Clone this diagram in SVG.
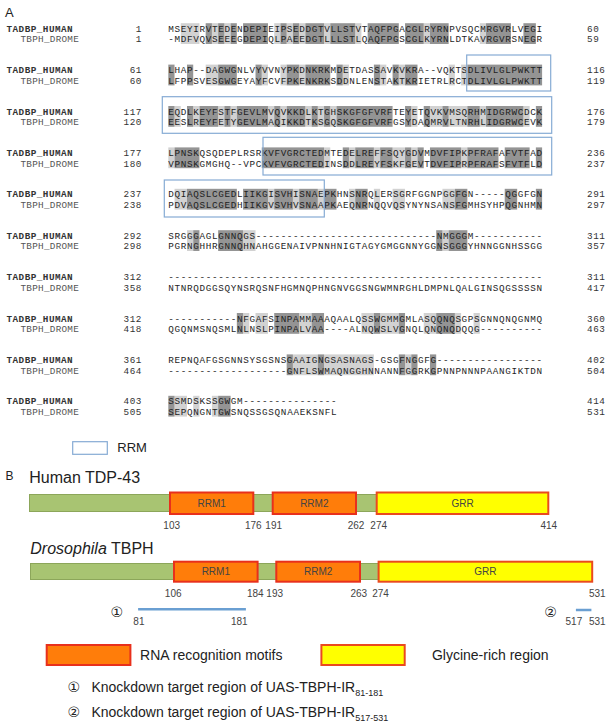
<svg xmlns="http://www.w3.org/2000/svg" width="610" height="725" viewBox="0 0 610 725">
<style>
.bg{fill:#fff}
.nmH{font-family:"Liberation Mono",monospace;font-size:9.3px;fill:#333;font-weight:bold;letter-spacing:0.48px}
.nmD{font-family:"Liberation Mono",monospace;font-size:9.3px;fill:#555;letter-spacing:0.28px}
.num{font-family:"Liberation Mono",monospace;font-size:9.3px;fill:#333;letter-spacing:0.6px}
.seq{font-family:"Liberation Mono",monospace;font-size:9.3px;fill:#1e1e1e}
.d{fill:#949494}
.l{fill:#d2d2d2}
.rrm{fill:none;stroke:#86abd4;stroke-width:1.2}
.lab{font-family:"Liberation Sans",Arial,sans-serif;fill:#222}
.pos{font-family:"Liberation Sans",Arial,sans-serif;font-size:10px;fill:#444;text-anchor:middle}
.dom{font-family:"Liberation Sans",Arial,sans-serif;font-size:10px;fill:#444;text-anchor:middle}
.bar{fill:#a8c472;stroke:#8ca65a;stroke-width:1}
.rm{fill:#ff7d0a;stroke:#e8301c;stroke-width:2}
.gr{fill:#ffff00;stroke:#ea4a1e;stroke-width:2}
.reg{stroke:#6a9fd2;stroke-width:2.5}
.leg{font-family:"Liberation Sans","DejaVu Sans",sans-serif;font-size:14px;fill:#222}
</style>
<rect class="bg" x="0" y="0" width="610" height="725"/>

<g id="panelA">
<text class="lab" x="5" y="16.5" font-size="13">A</text>

<g id="shading">
<g transform="translate(168.3,23.2) scale(6.23,1)">
<rect class="l" x="2" width="3" height="20.8"/><rect class="l" x="7" width="1" height="20.8"/><rect class="l" x="9" width="1" height="20.8"/><rect class="l" x="17" width="1" height="20.8"/><rect class="l" x="19" width="1" height="20.8"/><rect class="l" x="21" width="1" height="20.8"/><rect class="l" x="25" width="1" height="20.8"/><rect class="l" x="30" width="1" height="20.8"/><rect class="l" x="41" width="1" height="20.8"/><rect class="l" x="50" width="1" height="20.8"/>
<rect class="d" x="6" width="1" height="20.8"/><rect class="d" x="8" width="1" height="20.8"/><rect class="d" x="10" width="1" height="20.8"/><rect class="d" x="12" width="4" height="20.8"/><rect class="d" x="18" width="1" height="20.8"/><rect class="d" x="20" width="1" height="20.8"/><rect class="d" x="22" width="3" height="20.8"/><rect class="d" x="26" width="4" height="20.8"/><rect class="d" x="32" width="5" height="20.8"/><rect class="d" x="38" width="3" height="20.8"/><rect class="d" x="42" width="3" height="20.8"/><rect class="d" x="51" width="4" height="20.8"/><rect class="d" x="57" width="2" height="20.8"/>
</g>
<g transform="translate(168.3,64.6) scale(6.23,1)">
<rect class="l" x="6" width="2" height="20.8"/><rect class="l" x="15" width="1" height="20.8"/><rect class="l" x="18" width="1" height="20.8"/><rect class="l" x="21" width="1" height="20.8"/><rect class="l" x="28" width="1" height="20.8"/><rect class="l" x="34" width="1" height="20.8"/><rect class="l" x="37" width="1" height="20.8"/><rect class="l" x="45" width="1" height="20.8"/><rect class="l" x="47" width="1" height="20.8"/>
<rect class="d" x="0" width="1" height="20.8"/><rect class="d" x="3" width="1" height="20.8"/><rect class="d" x="8" width="3" height="20.8"/><rect class="d" x="14" width="1" height="20.8"/><rect class="d" x="19" width="2" height="20.8"/><rect class="d" x="22" width="4" height="20.8"/><rect class="d" x="27" width="1" height="20.8"/><rect class="d" x="33" width="1" height="20.8"/><rect class="d" x="36" width="1" height="20.8"/><rect class="d" x="38" width="2" height="20.8"/><rect class="d" x="48" width="12" height="20.8"/>
</g>
<g transform="translate(168.3,106) scale(6.23,1)">
<rect class="l" x="1" width="1" height="20.8"/><rect class="l" x="4" width="1" height="20.8"/><rect class="l" x="8" width="1" height="20.8"/><rect class="l" x="10" width="1" height="20.8"/><rect class="l" x="16" width="1" height="20.8"/><rect class="l" x="18" width="1" height="20.8"/><rect class="l" x="22" width="1" height="20.8"/><rect class="l" x="24" width="1" height="20.8"/><rect class="l" x="26" width="1" height="20.8"/><rect class="l" x="39" width="1" height="20.8"/><rect class="l" x="42" width="2" height="20.8"/><rect class="l" x="45" width="3" height="20.8"/><rect class="l" x="50" width="1" height="20.8"/><rect class="l" x="57" width="1" height="20.8"/>
<rect class="d" x="0" width="1" height="20.8"/><rect class="d" x="3" width="1" height="20.8"/><rect class="d" x="5" width="3" height="20.8"/><rect class="d" x="9" width="1" height="20.8"/><rect class="d" x="11" width="5" height="20.8"/><rect class="d" x="17" width="1" height="20.8"/><rect class="d" x="19" width="3" height="20.8"/><rect class="d" x="23" width="1" height="20.8"/><rect class="d" x="25" width="1" height="20.8"/><rect class="d" x="27" width="9" height="20.8"/><rect class="d" x="38" width="1" height="20.8"/><rect class="d" x="41" width="1" height="20.8"/><rect class="d" x="44" width="1" height="20.8"/><rect class="d" x="48" width="2" height="20.8"/><rect class="d" x="51" width="6" height="20.8"/><rect class="d" x="59" width="1" height="20.8"/>
</g>
<g transform="translate(168.3,147.4) scale(6.23,1)">
<rect class="l" x="0" width="1" height="20.8"/><rect class="l" x="25" width="1" height="20.8"/><rect class="l" x="29" width="1" height="20.8"/><rect class="l" x="33" width="1" height="20.8"/><rect class="l" x="36" width="2" height="20.8"/><rect class="l" x="39" width="1" height="20.8"/><rect class="l" x="47" width="1" height="20.8"/>
<rect class="d" x="1" width="4" height="20.8"/><rect class="d" x="15" width="10" height="20.8"/><rect class="d" x="28" width="1" height="20.8"/><rect class="d" x="30" width="3" height="20.8"/><rect class="d" x="34" width="2" height="20.8"/><rect class="d" x="38" width="1" height="20.8"/><rect class="d" x="40" width="1" height="20.8"/><rect class="d" x="42" width="5" height="20.8"/><rect class="d" x="48" width="5" height="20.8"/><rect class="d" x="54" width="4" height="20.8"/><rect class="d" x="59" width="1" height="20.8"/>
</g>
<g transform="translate(168.3,188.8) scale(6.23,1)">
<rect class="l" x="1" width="2" height="20.8"/><rect class="l" x="16" width="1" height="20.8"/><rect class="l" x="20" width="1" height="20.8"/><rect class="l" x="24" width="1" height="20.8"/><rect class="l" x="29" width="1" height="20.8"/><rect class="l" x="33" width="1" height="20.8"/><rect class="l" x="36" width="2" height="20.8"/><rect class="l" x="44" width="2" height="20.8"/>
<rect class="d" x="3" width="8" height="20.8"/><rect class="d" x="12" width="4" height="20.8"/><rect class="d" x="17" width="3" height="20.8"/><rect class="d" x="21" width="3" height="20.8"/><rect class="d" x="25" width="2" height="20.8"/><rect class="d" x="30" width="2" height="20.8"/><rect class="d" x="46" width="2" height="20.8"/><rect class="d" x="54" width="2" height="20.8"/><rect class="d" x="59" width="1" height="20.8"/>
</g>
<g transform="translate(168.3,230.2) scale(6.23,1)">
<rect class="l" x="3" width="1" height="20.8"/><rect class="l" x="12" width="2" height="20.8"/><rect class="l" x="44" width="1" height="20.8"/>
<rect class="d" x="4" width="1" height="20.8"/><rect class="d" x="8" width="4" height="20.8"/><rect class="d" x="43" width="1" height="20.8"/><rect class="d" x="45" width="3" height="20.8"/>
</g>
<g transform="translate(168.3,313) scale(6.23,1)">
<rect class="l" x="12" width="1" height="20.8"/><rect class="l" x="14" width="2" height="20.8"/><rect class="l" x="21" width="2" height="20.8"/><rect class="l" x="31" width="2" height="20.8"/><rect class="l" x="34" width="3" height="20.8"/><rect class="l" x="41" width="2" height="20.8"/><rect class="l" x="46" width="1" height="20.8"/><rect class="l" x="49" width="1" height="20.8"/>
<rect class="d" x="11" width="1" height="20.8"/><rect class="d" x="17" width="4" height="20.8"/><rect class="d" x="23" width="2" height="20.8"/><rect class="d" x="33" width="1" height="20.8"/><rect class="d" x="37" width="1" height="20.8"/><rect class="d" x="43" width="3" height="20.8"/>
</g>
<g transform="translate(168.3,354.4) scale(6.23,1)">
<rect class="l" x="20" width="4" height="20.8"/><rect class="l" x="25" width="8" height="20.8"/><rect class="l" x="38" width="1" height="20.8"/>
<rect class="d" x="19" width="1" height="20.8"/><rect class="d" x="24" width="1" height="20.8"/><rect class="d" x="37" width="1" height="20.8"/><rect class="d" x="39" width="1" height="20.8"/><rect class="d" x="42" width="1" height="20.8"/>
</g>
<g transform="translate(168.3,395.8) scale(6.23,1)">
<rect class="l" x="1" width="2" height="20.8"/><rect class="l" x="4" width="1" height="20.8"/><rect class="l" x="7" width="1" height="20.8"/>
<rect class="d" x="0" width="1" height="20.8"/><rect class="d" x="8" width="2" height="20.8"/>
</g>
</g>

<g id="names">
<text class="nmH" x="6.5" y="31.7">TADBP_HUMAN</text><text class="nmD" x="20.5" y="42.3">TBPH_DROME</text>
<text class="nmH" x="6.5" y="73.1">TADBP_HUMAN</text><text class="nmD" x="20.5" y="83.7">TBPH_DROME</text>
<text class="nmH" x="6.5" y="114.5">TADBP_HUMAN</text><text class="nmD" x="20.5" y="125.1">TBPH_DROME</text>
<text class="nmH" x="6.5" y="155.9">TADBP_HUMAN</text><text class="nmD" x="20.5" y="166.5">TBPH_DROME</text>
<text class="nmH" x="6.5" y="197.3">TADBP_HUMAN</text><text class="nmD" x="20.5" y="207.9">TBPH_DROME</text>
<text class="nmH" x="6.5" y="238.7">TADBP_HUMAN</text><text class="nmD" x="20.5" y="249.3">TBPH_DROME</text>
<text class="nmH" x="6.5" y="280.1">TADBP_HUMAN</text><text class="nmD" x="20.5" y="290.7">TBPH_DROME</text>
<text class="nmH" x="6.5" y="321.5">TADBP_HUMAN</text><text class="nmD" x="20.5" y="332.1">TBPH_DROME</text>
<text class="nmH" x="6.5" y="362.9">TADBP_HUMAN</text><text class="nmD" x="20.5" y="373.5">TBPH_DROME</text>
<text class="nmH" x="6.5" y="404.3">TADBP_HUMAN</text><text class="nmD" x="20.5" y="414.9">TBPH_DROME</text>
</g>

<g id="left-numbers" text-anchor="end">
<text class="num" x="142" y="31.7">1</text><text class="num" x="142" y="42.3">1</text>
<text class="num" x="142" y="73.1">61</text><text class="num" x="142" y="83.7">60</text>
<text class="num" x="142" y="114.5">117</text><text class="num" x="142" y="125.1">120</text>
<text class="num" x="142" y="155.9">177</text><text class="num" x="142" y="166.5">180</text>
<text class="num" x="142" y="197.3">237</text><text class="num" x="142" y="207.9">238</text>
<text class="num" x="142" y="238.7">292</text><text class="num" x="142" y="249.3">298</text>
<text class="num" x="142" y="280.1">312</text><text class="num" x="142" y="290.7">358</text>
<text class="num" x="142" y="321.5">312</text><text class="num" x="142" y="332.1">418</text>
<text class="num" x="142" y="362.9">361</text><text class="num" x="142" y="373.5">464</text>
<text class="num" x="142" y="404.3">403</text><text class="num" x="142" y="414.9">505</text>
</g>

<g id="sequences">
<text class="seq" x="168.3" y="31.7" textLength="373.8" lengthAdjust="spacing">MSEYIRVTEDENDEPIEIPSEDDGTVLLSTVTAQFPGACGLRYRNPVSQCMRGVRLVEGI</text>
<text class="seq" x="168.3" y="42.3" textLength="373.8" lengthAdjust="spacing">-MDFVQVSEEEGDEPIQLPAEEDGTLLLSTLQAQFPGSCGLKYRNLDTKAVRGVRSNEGR</text>
<text class="seq" x="168.3" y="73.1" textLength="373.8" lengthAdjust="spacing">LHAP--DAGWGNLVYVVNYPKDNKRKMDETDASSAVKVKRA--VQKTSDLIVLGLPWKTT</text>
<text class="seq" x="168.3" y="83.7" textLength="373.8" lengthAdjust="spacing">LFPPSVESGWGEYAYFCVFPKENKRKSDDNLENSTAKTKRIETRLRCTDLIVLGLPWKTT</text>
<text class="seq" x="168.3" y="114.5" textLength="373.8" lengthAdjust="spacing">EQDLKEYFSTFGEVLMVQVKKDLKTGHSKGFGFVRFTEYETQVKVMSQRHMIDGRWCDCK</text>
<text class="seq" x="168.3" y="125.1" textLength="373.8" lengthAdjust="spacing">EESLREYFETYGEVLMAQIKKDTKSGQSKGFGFVRFGSYDAQMRVLTNRHLIDGRWCEVK</text>
<text class="seq" x="168.3" y="155.9" textLength="373.8" lengthAdjust="spacing">LPNSKQSQDEPLRSRKVFVGRCTEDMTEDELREFFSQYGDVMDVFIPKPFRAFAFVTFAD</text>
<text class="seq" x="168.3" y="166.5" textLength="373.8" lengthAdjust="spacing">VPNSKGMGHQ--VPCKVFVGRCTEDINSDDLREYFSKFGEVTDVFIPRPFRAFSFVTFLD</text>
<text class="seq" x="168.3" y="197.3" textLength="373.8" lengthAdjust="spacing">DQIAQSLCGEDLIIKGISVHISNAEPKHNSNRQLERSGRFGGNPGGFGN-----QGGFGN</text>
<text class="seq" x="168.3" y="207.9" textLength="373.8" lengthAdjust="spacing">PDVAQSLCGEDHIIKGVSVHVSNAAPKAEQNRNQQVQSYNYNSANSFGMHSYHPQGNHMN</text>
<text class="seq" x="168.3" y="238.7" textLength="373.8" lengthAdjust="spacing">SRGGGAGLGNNQGS-----------------------------NMGGGM-----------</text>
<text class="seq" x="168.3" y="249.3" textLength="373.8" lengthAdjust="spacing">PGRNGHHRGNNQHNAHGGENAIVPNNHNIGTAGYGMGGNNYGGNSGGGYHNNGGNHSSGG</text>
<text class="seq" x="168.3" y="280.1" textLength="373.8" lengthAdjust="spacing">------------------------------------------------------------</text>
<text class="seq" x="168.3" y="290.7" textLength="373.8" lengthAdjust="spacing">NTNRQDGGSQYNSRQSNFHGMNQPHNGNVGGSNGWMNRGHLDMPNLQALGINSQGSSSSN</text>
<text class="seq" x="168.3" y="321.5" textLength="373.8" lengthAdjust="spacing">-----------NFGAFSINPAMMAAAQAALQSSWGMMGMLASQQNQSGPSGNNQNQGNMQ</text>
<text class="seq" x="168.3" y="332.1" textLength="373.8" lengthAdjust="spacing">QGQNMSNQSMLNLNSLPINPALVAA----ALNQWSLVGNQLQNQNQDQQG----------</text>
<text class="seq" x="168.3" y="362.9" textLength="373.8" lengthAdjust="spacing">REPNQAFGSGNNSYSGSNSGAAIGNGSASNAGS-GSGFNGGFG-----------------</text>
<text class="seq" x="168.3" y="373.5" textLength="373.8" lengthAdjust="spacing">-------------------GNFLSWMAQNGGHNNANNFGGRKGPNNPNNNPAANGIKTDN</text>
<text class="seq" x="168.3" y="404.3" textLength="168.2" lengthAdjust="spacing">SSMDSKSSGWGM---------------</text>
<text class="seq" x="168.3" y="414.9" textLength="168.2" lengthAdjust="spacing">SEPQNGNTGWSNQSSGSQNAAEKSNFL</text>
</g>

<g id="right-numbers">
<text class="num" x="587" y="31.7">60</text><text class="num" x="587" y="42.3">59</text>
<text class="num" x="587" y="73.1">116</text><text class="num" x="587" y="83.7">119</text>
<text class="num" x="587" y="114.5">176</text><text class="num" x="587" y="125.1">179</text>
<text class="num" x="587" y="155.9">236</text><text class="num" x="587" y="166.5">237</text>
<text class="num" x="587" y="197.3">291</text><text class="num" x="587" y="207.9">297</text>
<text class="num" x="587" y="238.7">311</text><text class="num" x="587" y="249.3">357</text>
<text class="num" x="587" y="280.1">311</text><text class="num" x="587" y="290.7">417</text>
<text class="num" x="587" y="321.5">360</text><text class="num" x="587" y="332.1">463</text>
<text class="num" x="587" y="362.9">402</text><text class="num" x="587" y="373.5">504</text>
<text class="num" x="587" y="404.3">414</text><text class="num" x="587" y="414.9">531</text>
</g>

<g id="rrm-boxes">
<rect class="rrm" x="466.7" y="55" width="84" height="36"/>
<rect class="rrm" x="162.3" y="96.7" width="389.4" height="36.6"/>
<rect class="rrm" x="263" y="137.3" width="288.7" height="37.7"/>
<rect class="rrm" x="164.3" y="180" width="160" height="37"/>
</g>

<g id="rrm-legend">
<rect class="rrm" x="72.7" y="441.7" width="34.6" height="12.6"/>
<text class="lab" x="117.3" y="452" font-size="13">RRM</text>
</g>
</g>

<g id="panelB">
<text class="lab" x="5.5" y="480" font-size="12">B</text>

<g id="human-tdp43">
<text class="lab" x="29.3" y="483" font-size="16">Human TDP-43</text>
<rect class="bar" x="29.5" y="494.5" width="519" height="17"/>
<g id="h-rrm1"><rect class="rm" x="170" y="492.5" width="83.3" height="21.5"/><text class="dom" x="211.7" y="507">RRM1</text></g>
<g id="h-rrm2"><rect class="rm" x="272.7" y="492.5" width="83.3" height="21.5"/><text class="dom" x="314.3" y="507">RRM2</text></g>
<g id="h-grr"><rect class="gr" x="376.7" y="492.5" width="171.6" height="21.5"/><text class="dom" x="462.5" y="507">GRR</text></g>
<text class="pos" x="171.7" y="528.6">103</text>
<text class="pos" x="253.3" y="528.6">176</text>
<text class="pos" x="273.7" y="528.6">191</text>
<text class="pos" x="356" y="528.6">262</text>
<text class="pos" x="378.7" y="528.6">274</text>
<text class="pos" x="548.8" y="528.6">414</text>
</g>

<g id="drosophila-tbph">
<text class="lab" x="30.3" y="554" font-size="16"><tspan font-style="italic">Drosophila</tspan> TBPH</text>
<rect class="bar" x="30.5" y="563.5" width="562" height="16"/>
<g id="d-rrm1"><rect class="rm" x="174" y="561.7" width="83.6" height="20"/><text class="dom" x="215.8" y="575.3">RRM1</text></g>
<g id="d-rrm2"><rect class="rm" x="276.3" y="561.7" width="83.7" height="20"/><text class="dom" x="318.2" y="575.3">RRM2</text></g>
<g id="d-grr"><rect class="gr" x="378.6" y="561.7" width="213.6" height="20"/><text class="dom" x="485.4" y="575.3">GRR</text></g>
<text class="pos" x="173.2" y="597">106</text>
<text class="pos" x="255.3" y="597">184</text>
<text class="pos" x="274.7" y="597">193</text>
<text class="pos" x="358.8" y="597">263</text>
<text class="pos" x="380.5" y="597">274</text>
<text class="pos" x="597.3" y="597">531</text>
</g>

<g id="region-lines">
<text class="leg" x="116.7" y="616.5" text-anchor="middle">①</text>
<line class="reg" x1="138.1" y1="609.3" x2="245.9" y2="609.3"/>
<text class="pos" x="138.9" y="625">81</text>
<text class="pos" x="239.3" y="625">181</text>
<text class="leg" x="550.6" y="616.5" text-anchor="middle">②</text>
<line class="reg" x1="575.9" y1="610" x2="591.4" y2="610"/>
<text class="pos" x="573.9" y="625">517</text>
<text class="pos" x="597.3" y="625">531</text>
</g>

<g id="legend">
<g id="leg-rrm"><rect class="rm" x="46.7" y="645" width="83.7" height="20"/><text class="leg" x="140.1" y="660">RNA recognition motifs</text></g>
<g id="leg-grr"><rect class="gr" x="321.4" y="645" width="83.3" height="20"/><text class="leg" x="431.9" y="660">Glycine-rich region</text></g>
<g id="leg-1"><text class="leg" x="73.9" y="691.5" text-anchor="middle">①</text><text class="leg" x="91.4" y="691.5">Knockdown target region of UAS-TBPH-IR<tspan font-size="9" dy="4">81-181</tspan></text></g>
<g id="leg-2"><text class="leg" x="73.9" y="716.5" text-anchor="middle">②</text><text class="leg" x="91.4" y="716.5">Knockdown target region of UAS-TBPH-IR<tspan font-size="9" dy="4">517-531</tspan></text></g>
</g>
</g>
</svg>
